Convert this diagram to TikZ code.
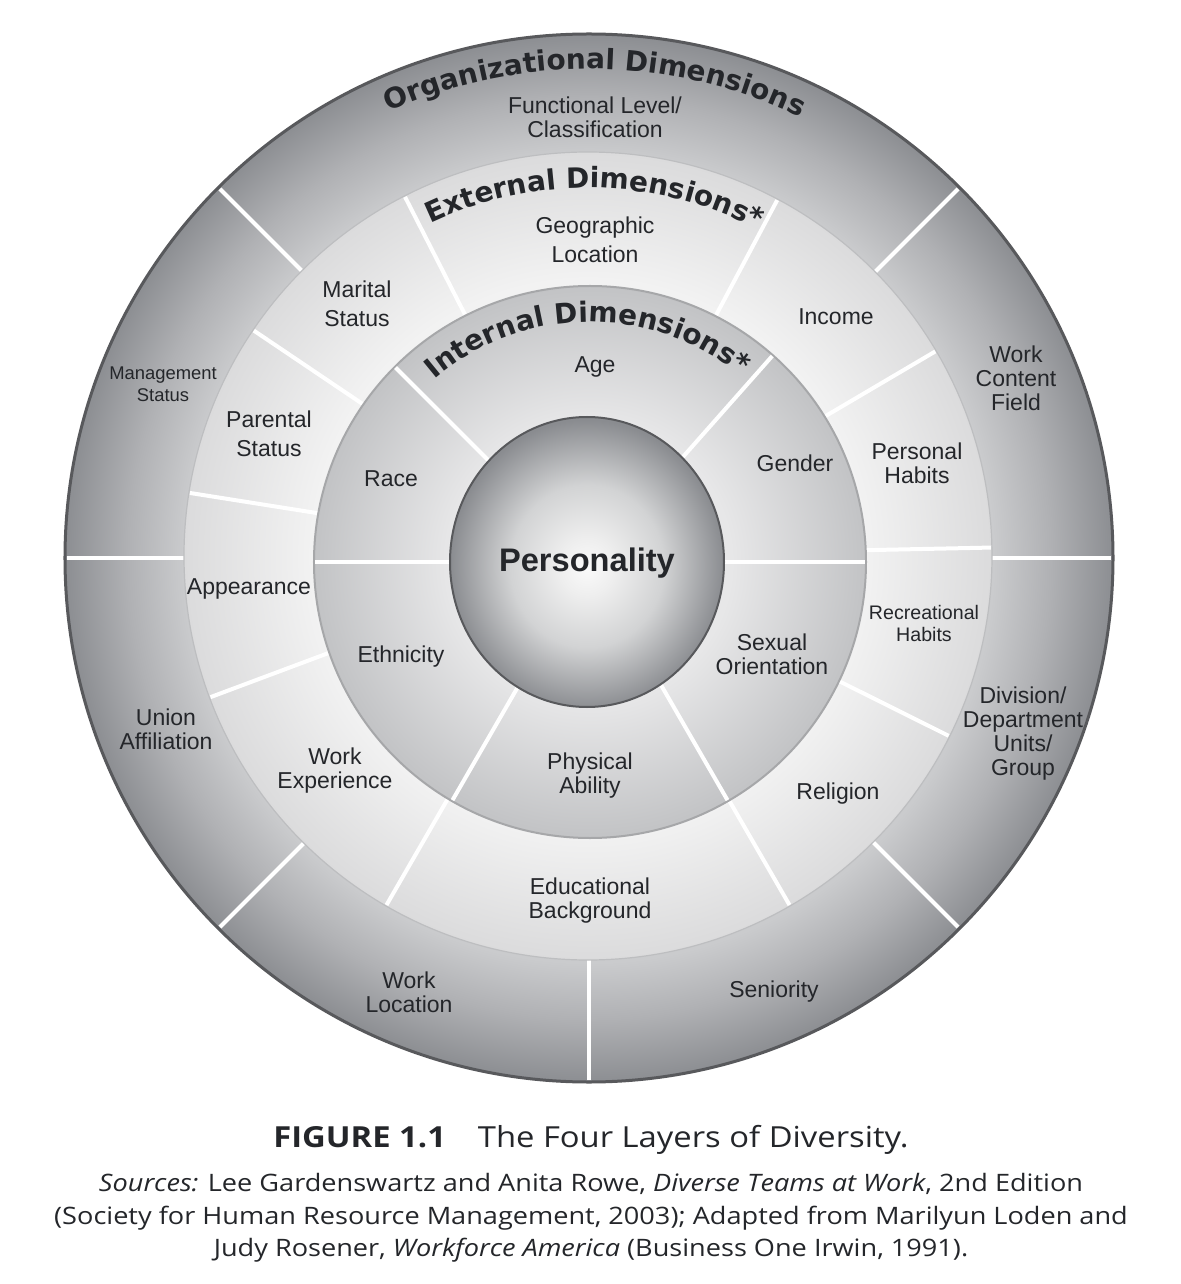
\documentclass[tikz,border=0pt]{standalone}
\usepackage{fontspec}
\setmainfont{Liberation Sans}
\newfontfamily\lblfont{Liberation Sans}
\newfontfamily\arcfont{DejaVu Sans}
\newfontfamily\capfont{Open Sans}[FakeStretch=1.13]
\usetikzlibrary{decorations.text,calc}
\definecolor{labelc}{HTML}{24262A}
\definecolor{orgIn}{HTML}{CACBCD}
\definecolor{orgMid}{HTML}{B0B1B4}
\definecolor{orgOut}{HTML}{8C8E92}
\definecolor{extIn}{HTML}{F2F2F2}
\definecolor{extOut}{HTML}{DBDBDC}
\definecolor{intIn}{HTML}{E7E7E8}
\definecolor{intOut}{HTML}{C2C3C5}
\definecolor{persIn}{HTML}{FAFAFA}
\definecolor{persA}{HTML}{EEEEEE}
\definecolor{persMid}{HTML}{D2D3D4}
\definecolor{persOut}{HTML}{8A8C90}
\definecolor{rimc}{HTML}{58595C}
\definecolor{intrim}{HTML}{A6A7A9}
\definecolor{extrim}{HTML}{BDBEC0}
\pgfdeclareradialshading{orgshade}{\pgfpoint{0bp}{0bp}}{color(0bp)=(orgIn); color(19.3bp)=(orgIn); color(22bp)=(orgMid); color(25bp)=(orgOut); color(50bp)=(orgOut)}
\pgfdeclareradialshading{extshade}{\pgfpoint{0bp}{0bp}}{color(0bp)=(extIn); color(17.1bp)=(extIn); color(25bp)=(extOut); color(50bp)=(extOut)}
\pgfdeclareradialshading{intshade}{\pgfpoint{0bp}{0bp}}{color(0bp)=(intIn); color(12.8bp)=(intIn); color(25bp)=(intOut); color(50bp)=(intOut)}
\pgfdeclareradialshading{persshade}{\pgfpoint{0bp}{-1bp}}{color(0bp)=(persIn); color(5bp)=(persA); color(14bp)=(persMid); color(25bp)=(persOut); color(50bp)=(persOut)}
\begin{document}
\begin{tikzpicture}[x=0.5pt,y=0.5pt,
  lbl/.style={font=\lblfont\fontsize{11.5}{12}\selectfont, text=labelc, align=center, inner sep=0pt},
  lblbig/.style={lbl, font=\lblfont\fontsize{11.5}{14.5}\selectfont},
  lblsm/.style={lbl, font=\lblfont\fontsize{9.2}{11}\selectfont},
  lblrec/.style={lbl, font=\lblfont\fontsize{9.8}{11}\selectfont},
  divider/.style={white, line width=2pt},
  arctext/.style={decorate, decoration={text along path, text align=center}}]
\useasboundingbox (-589,-726) rectangle (591,558);
\fill[white] (-589,-726) rectangle (591,558);

% outer ring (organizational)
\shade[shading=orgshade] (0,0) circle[radius=524];
\foreach \a in {0,45,135,180,225,270,315}
  \draw[divider] (\a:380) -- (\a:522);
\draw[rimc, line width=1.5pt] (0,0) circle[radius=524];

% external ring
\coordinate (cext) at (-1,2);
\shade[shading=extshade] (cext) circle[radius=404];
\draw[extrim, line width=0.6pt] (cext) circle[radius=404];
\foreach \a in {1.2,30.5,62,117,146,171,200.5,240,300,333.5}
  \draw[divider] ($(cext)+(\a:250)$) -- ($(cext)+(\a:403)$);

% internal ring
\coordinate (cint) at (1,-4);
\shade[shading=intshade] (cint) circle[radius=276];
\draw[intrim, line width=1pt] (cint) circle[radius=276];
\foreach \a in {0,48.5,135,180,240,300}
  \draw[divider] ($(cint)+(\a:120)$) -- ($(cint)+(\a:275)$);

% personality
\shade[shading=persshade] (-2,-4) ellipse[x radius=137, y radius=145];
\draw[rimc, line width=1pt] (-2,-4) ellipse[x radius=137, y radius=145];

% curved titles
\path[arctext, decoration={text={|\arcfont\bfseries\fontsize{14}{14}\selectfont\color{labelc}|Organizational Dimensions}}]
  (125:489) arc[start angle=125, end angle=53.6, radius=489];
\path[arctext, decoration={text={|\arcfont\bfseries\fontsize{14}{14}\selectfont\color{labelc}|External Dimensions*}}]
  ($(cext)+(124:368)$) arc[start angle=124, end angle=54, radius=368];
\path[arctext, decoration={text={|\arcfont\bfseries\fontsize{14}{14}\selectfont\color{labelc}|Internal Dimensions*}}]
  ($(cint)+(140:240)$) arc[start angle=140, end angle=41.5, radius=240];

% labels
\node[lbl] (funclvl) at (6,441) {Functional Level/\\Classification};
\node[lblsm] (mgmt) at (-426,174) {Management\\Status};
\node[lblbig] (marital) at (-232,254) {Marital\\Status};
\node[lblbig] (parental) at (-320,124) {Parental\\Status};
\node[lblbig] (geo) at (6,318) {Geographic\\Location};
\node[lbl] (income) at (247,241) {Income};
\node[lbl] (workcontent) at (427,180) {Work\\Content\\Field};
\node[lbl] (personalhab) at (328,95) {Personal\\Habits};
\node[lbl] (age) at (6,191) {Age};
\node[lbl] (race) at (-198,79) {Race};
\node[lbl] (gender) at (206,95) {Gender};
\node[font=\lblfont\bfseries\fontsize{16.3}{18}\selectfont, text=labelc, inner sep=0pt] (personality) at (-2,-5) {Personality};
\node[lbl] (appearance) at (-340,-31) {Appearance};
\node[lbl] (ethnicity) at (-188,-99) {Ethnicity};
\node[lbl] (sexual) at (183,-96) {Sexual\\Orientation};
\node[lblrec] (recreational) at (335,-65) {Recreational\\Habits};
\node[lbl] (union) at (-423,-171) {Union\\Affiliation};
\node[lbl] (division) at (434,-176) {Division/\\Department\\Units/\\Group};
\node[lbl] (workexp) at (-254,-213) {Work\\Experience};
\node[lbl] (physical) at (1,-218) {Physical\\Ability};
\node[lbl] (religion) at (249,-236) {Religion};
\node[lbl] (edu) at (1,-343) {Educational\\Background};
\node[lbl] (workloc) at (-180,-434) {Work\\Location};
\node[lbl] (seniority) at (185,-434) {Seniority};

% caption
\node[font=\capfont\fontsize{14.5}{17}\selectfont, text=labelc, inner sep=0pt] (title) at (2,-582)
  {\textbf{FIGURE 1.1}\hspace{1.1em}The Four Layers of Diversity.};
\node[font=\capfont\fontsize{12}{16.25}\selectfont, text=labelc, align=center, inner sep=0pt] (sources) at (2,-660)
  {\textit{Sources:} Lee Gardenswartz and Anita Rowe, \textit{Diverse Teams at Work}, 2nd Edition\\
   (Society for Human Resource Management, 2003); Adapted from Marilyun Loden and\\
   Judy Rosener, \textit{Workforce America} (Business One Irwin, 1991).};
\end{tikzpicture}
\end{document}
